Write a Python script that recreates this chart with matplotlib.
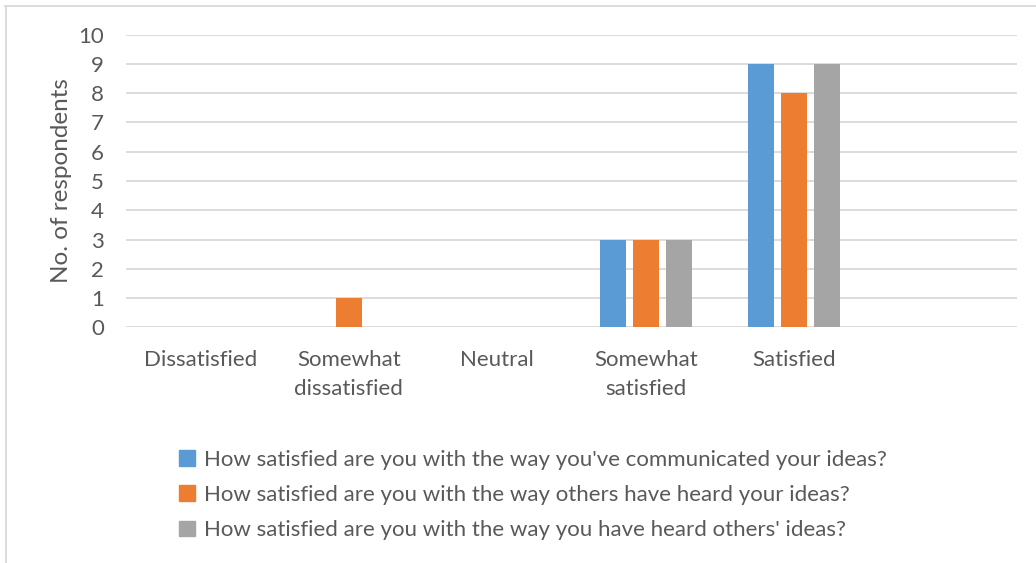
import numpy as np
import matplotlib.pyplot as plt
from matplotlib.lines import Line2D

categories = ['Dissatisfied', 'Somewhat\ndissatisfied', 'Neutral',
              'Somewhat\nsatisfied', 'Satisfied', '']
communicated = [0, 0, 0, 3, 9, 0]
others_heard = [0, 1, 0, 3, 8, 0]
heard_others = [0, 0, 0, 3, 9, 0]
series_names = [
    "How satisfied are you with the way you've communicated your ideas?",
    "How satisfied are you with the way others have heard your ideas?",
    "How satisfied are you with the way you have heard others' ideas?",
]
colors = ['#5B9BD5', '#ED7D31', '#A5A5A5']

plt.rcParams['font.family'] = ['Lato', 'DejaVu Sans']
txt = '#595959'

fig = plt.figure(figsize=(10.36, 5.63), dpi=100)
ax = fig.add_axes([0.1216, 0.4183, 0.8601, 0.5204])

x = np.arange(len(categories))
w = 0.175
step = 0.222
for i, vals in enumerate([communicated, others_heard, heard_others]):
    ax.bar(x + (i - 1) * step, vals, width=w, color=colors[i],
           label=series_names[i], zorder=3)

ax.set_xlim(-0.5, len(categories) - 0.5)
ax.set_ylim(0, 10)
ax.set_yticks(range(0, 11))
ax.set_xticks(x)
ax.set_xticklabels(categories, fontsize=16, color=txt, linespacing=1.55)
ax.tick_params(axis='y', labelsize=16, labelcolor=txt, length=0, pad=16)
ax.tick_params(axis='x', length=0, pad=16)
ax.grid(axis='y', color='#D9D9D9', linewidth=1.3, zorder=0)
for s in ax.spines.values():
    s.set_visible(False)
ax.set_ylabel('No. of respondents', fontsize=17.5, color=txt, labelpad=4)

handles = [plt.Rectangle((0, 0), 1, 1, color=c) for c in colors]
fig.legend(handles, series_names, loc='upper left', bbox_to_anchor=(0.173, 0.201),
           frameon=False, fontsize=16, labelcolor=txt, handlelength=0.7,
           handleheight=0.7, handletextpad=0.4, labelspacing=0.68,
           borderpad=0, borderaxespad=0)

# chart border (top and left edges visible in the crop)
fig.add_artist(Line2D([5 / 1036, 1], [1 - 5.5 / 563, 1 - 5.5 / 563],
                      color='#D9D9D9', linewidth=1.3, transform=fig.transFigure))
fig.add_artist(Line2D([5.5 / 1036, 5.5 / 1036], [0, 1 - 5.5 / 563],
                      color='#D9D9D9', linewidth=1.3, transform=fig.transFigure))

fig.savefig('out.png', dpi=100)
